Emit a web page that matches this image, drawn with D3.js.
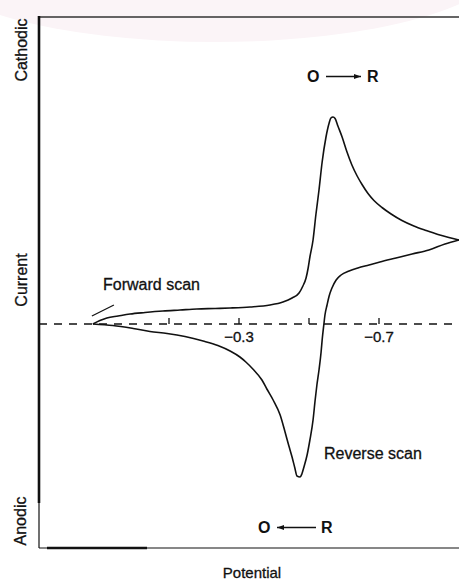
<!DOCTYPE html>
<html>
<head>
<meta charset="utf-8">
<script src="https://cdn.jsdelivr.net/npm/d3@7"></script>
<style>
  html, body { margin: 0; padding: 0; background: #fff; }
  svg { display: block; }
  text { font-family: "Liberation Sans", Arial, Helvetica, sans-serif; fill: #111; stroke: #111; stroke-width: 0.3px; }
</style>
</head>
<body>
<svg id="chart" width="459" height="581"></svg>
<script>
// Cyclic voltammogram: potential (V) and current (arbitrary units)
const potentialForward = [0.116, 0.096, 0.076, 0.044, 0.010, -0.033, -0.084, -0.133, -0.181, -0.233,
  -0.276, -0.333, -0.390, -0.427, -0.453, -0.473, -0.484, -0.493, -0.499, -0.504,
  -0.513, -0.521, -0.530, -0.539, -0.550, -0.559, -0.564, -0.570, -0.576, -0.584,
  -0.596, -0.610, -0.624, -0.639, -0.653, -0.670, -0.687, -0.710, -0.736, -0.767,
  -0.801, -0.836, -0.870, -0.901, -0.930];
const currentForward = [0.0, 0.35, 0.6, 0.8, 1.0, 1.15, 1.3, 1.4, 1.5, 1.55,
  1.6, 1.7, 1.9, 2.2, 2.6, 3.1, 3.8, 4.6, 5.6, 6.7,
  8.4, 10.9, 13.4, 16.2, 18.7, 20.1, 20.6, 20.7, 20.55, 19.8,
  18.7, 17.2, 15.9, 14.8, 13.95, 13.05, 12.35, 11.65, 11.0, 10.35,
  9.8, 9.35, 8.95, 8.65, 8.4];

const potentialReverse = [-0.930, -0.890, -0.844, -0.796, -0.750, -0.704, -0.673, -0.641, -0.616, -0.593,
  -0.579, -0.567, -0.559, -0.553, -0.547, -0.544, -0.539, -0.536, -0.530, -0.524,
  -0.519, -0.513, -0.504, -0.496, -0.487, -0.481, -0.476, -0.467, -0.461, -0.453,
  -0.444, -0.433, -0.419, -0.399, -0.381, -0.367, -0.341, -0.321, -0.304, -0.276,
  -0.241, -0.199, -0.147, -0.096, -0.047, 0.001, 0.059, 0.116];
const currentReverse = [8.4, 8.0, 7.4, 7.0, 6.6, 6.2, 5.9, 5.6, 5.3, 4.9,
  4.4, 3.6, 2.8, 1.9, 0.9, 0.0, -1.6, -2.8, -4.6, -6.1,
  -7.6, -9.6, -11.6, -13.1, -14.3, -15.0, -15.3, -15.2, -14.4, -13.3,
  -12.2, -10.8, -9.1, -7.6, -6.5, -5.6, -4.5, -3.8, -3.3, -2.7,
  -2.15, -1.7, -1.25, -0.95, -0.75, -0.45, -0.15, 0.0];

const potentialTicks = [-0.1, -0.3, -0.5, -0.7];
const labelledTicks = [-0.3, -0.7];
const axisTitles = ["Cathodic", "Current", "Anodic"];

const svg = d3.select("#chart");

const plot = { left: 39, right: 459, top: 17, bottom: 548 };

const x = d3.scaleLinear().domain([0.27, -0.93]).range([plot.left, plot.right]);
const y = d3.scaleLinear().domain([-22.4, 30.7]).range([plot.bottom, plot.top]);

// pale tint along the top edge
svg.append("ellipse").attr("cx", 215).attr("cy", -40).attr("rx", 290).attr("ry", 82)
  .attr("fill", "#fbf4f7");

// frame
const frame = svg.append("g").attr("stroke", "#111").attr("fill", "none");
frame.append("line").attr("x1", plot.left).attr("x2", plot.right)
  .attr("y1", plot.top).attr("y2", plot.top).attr("stroke-width", 1.4).attr("stroke", "#333");
frame.append("line").attr("x1", plot.left).attr("x2", plot.left)
  .attr("y1", plot.top - 1).attr("y2", 503).attr("stroke-width", 2.6);
frame.append("line").attr("x1", plot.left).attr("x2", plot.left)
  .attr("y1", 503).attr("y2", plot.bottom).attr("stroke-width", 1.2);
frame.append("line").attr("x1", plot.left).attr("x2", plot.right)
  .attr("y1", plot.bottom).attr("y2", plot.bottom).attr("stroke-width", 1.2);
frame.append("line").attr("x1", 47).attr("x2", 147)
  .attr("y1", plot.bottom).attr("y2", plot.bottom).attr("stroke-width", 2.4);

// zero-current baseline
svg.append("line")
  .attr("x1", plot.left).attr("x2", plot.right)
  .attr("y1", y(0)).attr("y2", y(0))
  .attr("stroke", "#111").attr("stroke-width", 1.3)
  .attr("stroke-dasharray", "8,7");

// potential ticks on the baseline
const axis = d3.axisBottom(x)
  .tickValues(potentialTicks)
  .tickSize(-6)
  .tickPadding(7)
  .tickFormat(d => labelledTicks.includes(d) ? d3.format(".1f")(d) : "");
const gAxis = svg.append("g").attr("transform", `translate(0,${y(0)})`).call(axis);
gAxis.select(".domain").remove();
gAxis.selectAll(".tick line").attr("stroke", "#111").attr("stroke-width", 1.3);
gAxis.selectAll(".tick text")
  .style("font-size", "15px").style("font-family", "Liberation Sans, Arial, sans-serif")
  .attr("fill", "#111");

// voltammogram branches
const line = d3.line()
  .x(d => x(d[0]))
  .y(d => y(d[1]))
  .curve(d3.curveMonotoneX);

const forward = d3.zip(potentialForward, currentForward);
const reverse = d3.zip(potentialReverse, currentReverse).reverse();

svg.append("path").datum(forward).attr("d", line)
  .attr("fill", "none").attr("stroke", "#111").attr("stroke-width", 1.6)
  .attr("stroke-linejoin", "round");
svg.append("path").datum(reverse).attr("d", line)
  .attr("fill", "none").attr("stroke", "#111").attr("stroke-width", 1.6)
  .attr("stroke-linejoin", "round");

// pointer from the "Forward scan" label to the start of the sweep
svg.append("line")
  .attr("x1", x(0.116) - 1).attr("y1", y(0.8))
  .attr("x2", x(0.056)).attr("y2", y(1.9))
  .attr("stroke", "#111").attr("stroke-width", 1.2);

// annotations
const ann = svg.append("g");
ann.append("text").attr("x", 103).attr("y", 290).style("font-size", "16px").text("Forward scan");
ann.append("text").attr("x", 324).attr("y", 459).style("font-size", "16px").text("Reverse scan");

function reaction(xO, yBase, xArrow1, xArrow2, xR) {
  ann.append("text").attr("x", xO).attr("y", yBase)
    .style("font-size", "16px").style("font-weight", "bold").style("stroke-width", "0").text("O");
  ann.append("text").attr("x", xR).attr("y", yBase)
    .style("font-size", "16px").style("font-weight", "bold").style("stroke-width", "0").text("R");
  const ay = yBase - 5.5;
  ann.append("line").attr("x1", xArrow1).attr("x2", xArrow2)
    .attr("y1", ay).attr("y2", ay).attr("stroke", "#111").attr("stroke-width", 1.3);
  const dir = Math.sign(xArrow2 - xArrow1);
  ann.append("path")
    .attr("d", `M${xArrow2},${ay} L${xArrow2 - dir * 7},${ay - 2.6} L${xArrow2 - dir * 7},${ay + 2.6} Z`)
    .attr("fill", "#111");
}
reaction(307, 82, 326, 361, 367);
reaction(258, 533, 316, 277, 321);

// axis titles
const yTitlePos = [[27, 50], [27, 280], [26, 521]];
axisTitles.forEach((t, i) => {
  svg.append("text")
    .attr("transform", `translate(${yTitlePos[i][0]},${yTitlePos[i][1]}) rotate(-90)`)
    .attr("text-anchor", "middle")
    .style("font-size", "16px")
    .text(t);
});
svg.append("text").attr("x", 252).attr("y", 578).attr("text-anchor", "middle")
  .style("font-size", "15px").text("Potential");
</script>
</body>
</html>
